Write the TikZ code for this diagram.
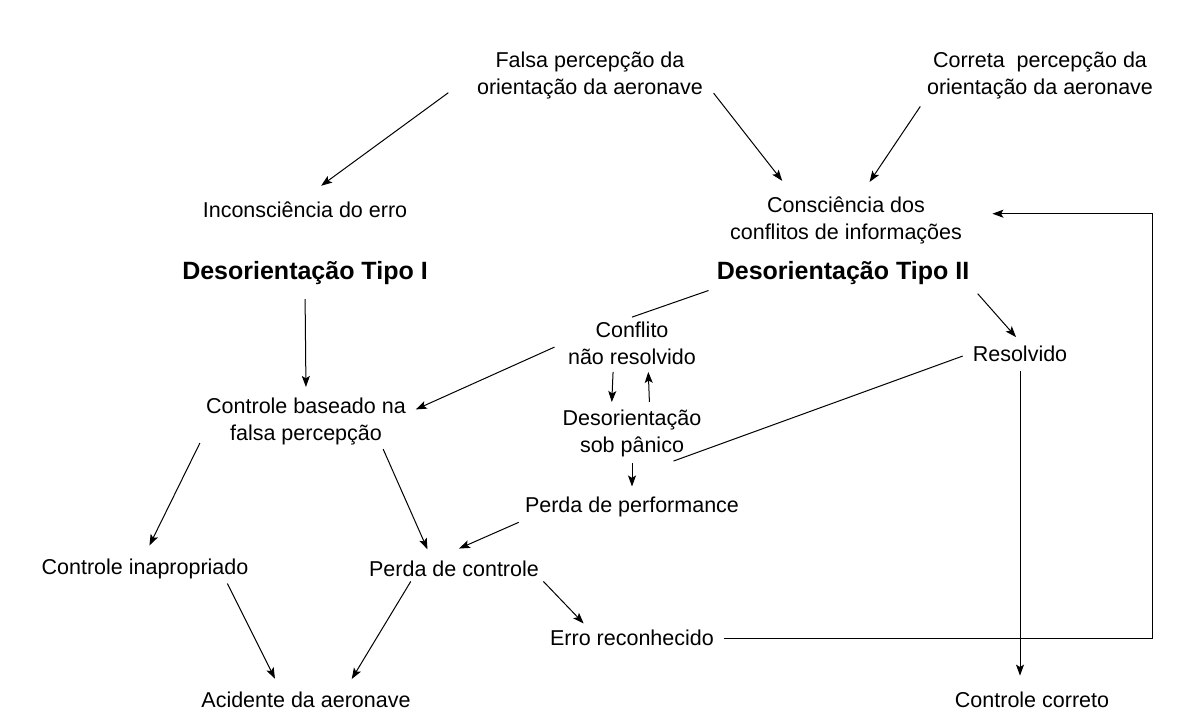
\documentclass[tikz,border=0pt]{standalone}
\usepackage{fontspec}
\setmainfont{Liberation Sans}
\usetikzlibrary{arrows.meta}

\begin{document}
\begin{tikzpicture}[x=0.5pt,y=-0.5pt,>={Stealth[length=5.5pt,width=4pt,inset=1.2pt]},line width=0.5pt,
    txt/.style={align=center,inner sep=2pt,font=\fontsize{10.75}{13.5}\selectfont},
    tipo/.style={inner sep=2pt,font=\fontsize{12.5}{14}\selectfont\bfseries}]
  \fill[white] (0,0) rectangle (1192,720);
  \useasboundingbox (0,0) rectangle (1192,720);
  \node[txt] (falsa) at (590,75) {Falsa percepção da\\orientação da aeronave};
  \node[txt] (correta) at (1040,75) {Correta~ percepção da\\orientação da aeronave};
  \node[txt] (incons) at (305,210) {Inconsciência do erro};
  \node[txt] (consc) at (846,220) {Consciência dos\\conflitos de informações};
  \node[tipo] (tipoI) at (305,273) {Desorientação Tipo I};
  \node[tipo] (tipoII) at (843,273) {Desorientação Tipo II};
  \node[txt] (conflito) at (632,343) {Conflito\\não resolvido};
  \node[txt] (resolv) at (1020,354) {Resolvido};
  \node[txt] (desor) at (632,433) {Desorientação\\sob pânico};
  \node[txt] (base) at (306,421) {Controle baseado na\\falsa percepção};
  \node[txt] (perf) at (632,507) {Perda de performance};
  \node[txt] (inap) at (145,569) {Controle inapropriado};
  \node[txt] (perdac) at (454,569) {Perda de controle};
  \node[txt] (erro) at (632,638) {Erro reconhecido};
  \node[txt] (acid) at (306,700) {Acidente da aeronave};
  \node[txt] (correto) at (1032,700) {Controle correto};
  \draw[->,shorten <=15pt,shorten >=10pt] (falsa.west) -- (incons.north);
  \draw[->,shorten <=5pt,shorten >=7pt] (falsa.-5) -- (consc.153);
  \draw[->,shorten <=2pt,shorten >=6pt] (correta.south west) -- (consc.59);
  \draw[->,shorten <=5pt,shorten >=3pt] (tipoI.south) -- (base.north);
  \draw[shorten <=2pt] (tipoII.south west) -- (conflito.north);
  \draw[->,shorten <=3pt,shorten >=3pt] (tipoII.south east) -- (resolv.north);
  \draw[->,shorten <=5pt,shorten >=3pt] (conflito.west) -- (base.5);
  \draw[->,shorten <=1.5pt,shorten >=1.5pt] (conflito.-126) -- (desor.126);
  \draw[->,shorten <=1.5pt,shorten >=1.5pt] (desor.58) -- (conflito.-58);
  \draw[->,shorten <=1pt,shorten >=3pt] (desor.south) -- (perf.north);
  \draw[shorten <=3pt] (resolv.west) -- (desor.-34);
  \draw[->,shorten <=2pt,shorten >=5pt] (base.190) -- (inap.north);
  \draw[->,shorten >=4pt] (base.-20) -- (perdac.152);
  \draw[->,shorten <=1pt,shorten >=10pt] (perf.south west) -- (perdac.137);
  \draw[->,shorten >=5pt] (inap.-10) -- (acid.155);
  \draw[->,shorten >=5pt] (perdac.-164) -- (acid.17);
  \draw[->,shorten >=1.5pt] (perdac.south east) -- (erro.165);
  \draw[->,shorten <=2.5pt,shorten >=6pt] (resolv.south) -- (resolv.south |- correto.north);
  \draw[->,shorten <=3pt,shorten >=13pt] (erro.east) -- ++(434,0) |- (consc.3);
\end{tikzpicture}
\end{document}
